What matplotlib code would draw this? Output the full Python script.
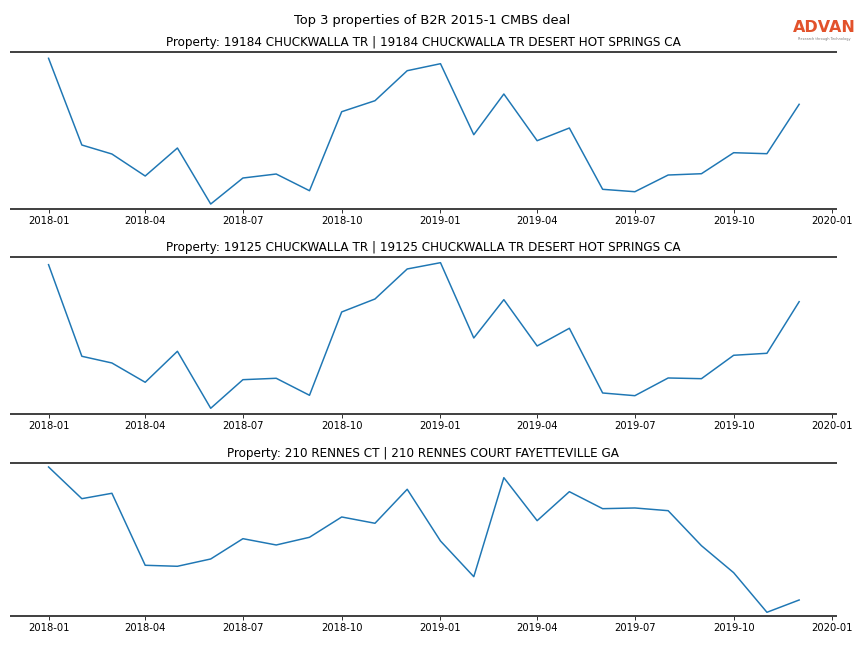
import matplotlib
matplotlib.use("Agg")
import matplotlib.pyplot as plt
import matplotlib.dates as mdates
import numpy as np
import pandas as pd

# monthly dates, 2018-01 .. 2019-12
months = pd.date_range("2018-01-01", "2019-12-01", freq="MS")

titles = [
    "Property: 19184 CHUCKWALLA TR | 19184 CHUCKWALLA TR DESERT HOT SPRINGS CA",
    "Property: 19125 CHUCKWALLA TR | 19125 CHUCKWALLA TR DESERT HOT SPRINGS CA",
    "Property: 210 RENNES CT | 210 RENNES COURT FAYETTEVILLE GA",
]

# values (arbitrary units, no y axis shown)
prop1 = [150.4, 63.7, 54.7, 32.7, 60.7, 4.7, 30.7, 34.7, 18.0, 97.0, 108.0, 138.0,
         145.0, 74.0, 114.7, 68.0, 80.7, 19.4, 17.0, 33.7, 35.0, 56.0, 55.0, 104.4]
prop2 = [149.0, 57.4, 50.7, 31.4, 62.4, 5.4, 34.0, 35.4, 18.4, 101.7, 114.7, 144.7,
         151.0, 75.7, 114.0, 67.7, 85.4, 20.7, 18.0, 35.7, 35.0, 58.4, 60.4, 112.0]
prop3 = [149.0, 117.3, 122.7, 50.7, 49.7, 57.0, 77.3, 71.0, 78.7, 99.0, 92.7, 126.7,
         75.0, 39.3, 138.3, 95.3, 124.3, 107.3, 108.0, 105.3, 70.3, 43.3, 3.7, 16.0]
series = [prop1, prop2, prop3]
ylims = [(0, 156.4), (0, 157.0), (0, 153.3)]

fig, axes = plt.subplots(3, 1, figsize=(12, 9), dpi=72)
# axes boxes (left, bottom, width, height) in figure fractions
boxes = [(0.0127, 0.6779, 0.9545, 0.2414),
         (0.0127, 0.3616, 0.9545, 0.2423),
         (0.0127, 0.0494, 0.9545, 0.2366)]

for ax, vals, title, yl, box in zip(axes, series, titles, ylims, boxes):
    ax.set_position(box)
    ax.plot(months, vals, color="#1f77b4", linewidth=1.5)
    ax.set_title(title, fontsize=12)
    ax.set_ylim(*yl)
    ax.set_xlim(pd.Timestamp("2017-11-27"), pd.Timestamp("2020-01-04"))
    ax.xaxis.set_major_locator(mdates.MonthLocator(bymonth=[1, 4, 7, 10]))
    ax.xaxis.set_major_formatter(mdates.DateFormatter("%Y-%m"))
    ax.set_yticks([])
    for side in ["left", "right"]:
        ax.spines[side].set_visible(False)
    for side in ["top", "bottom"]:
        ax.spines[side].set_color("#444444")
        ax.spines[side].set_linewidth(2)
    ax.tick_params(axis="x", labelsize=10, length=3.5, width=0.8)

fig.suptitle("Top 3 properties of B2R 2015-1 CMBS deal", fontsize=13, y=0.978)

# logo
fig.text(0.9545, 0.950, "ADVAN", color="#E2522B", fontsize=16, fontweight="bold",
         ha="center", va="baseline")
fig.text(0.9545, 0.938, "Research through Technology", color="#777777", fontsize=3.5,
         ha="center", va="baseline")

fig.savefig("out.png", dpi=72)
